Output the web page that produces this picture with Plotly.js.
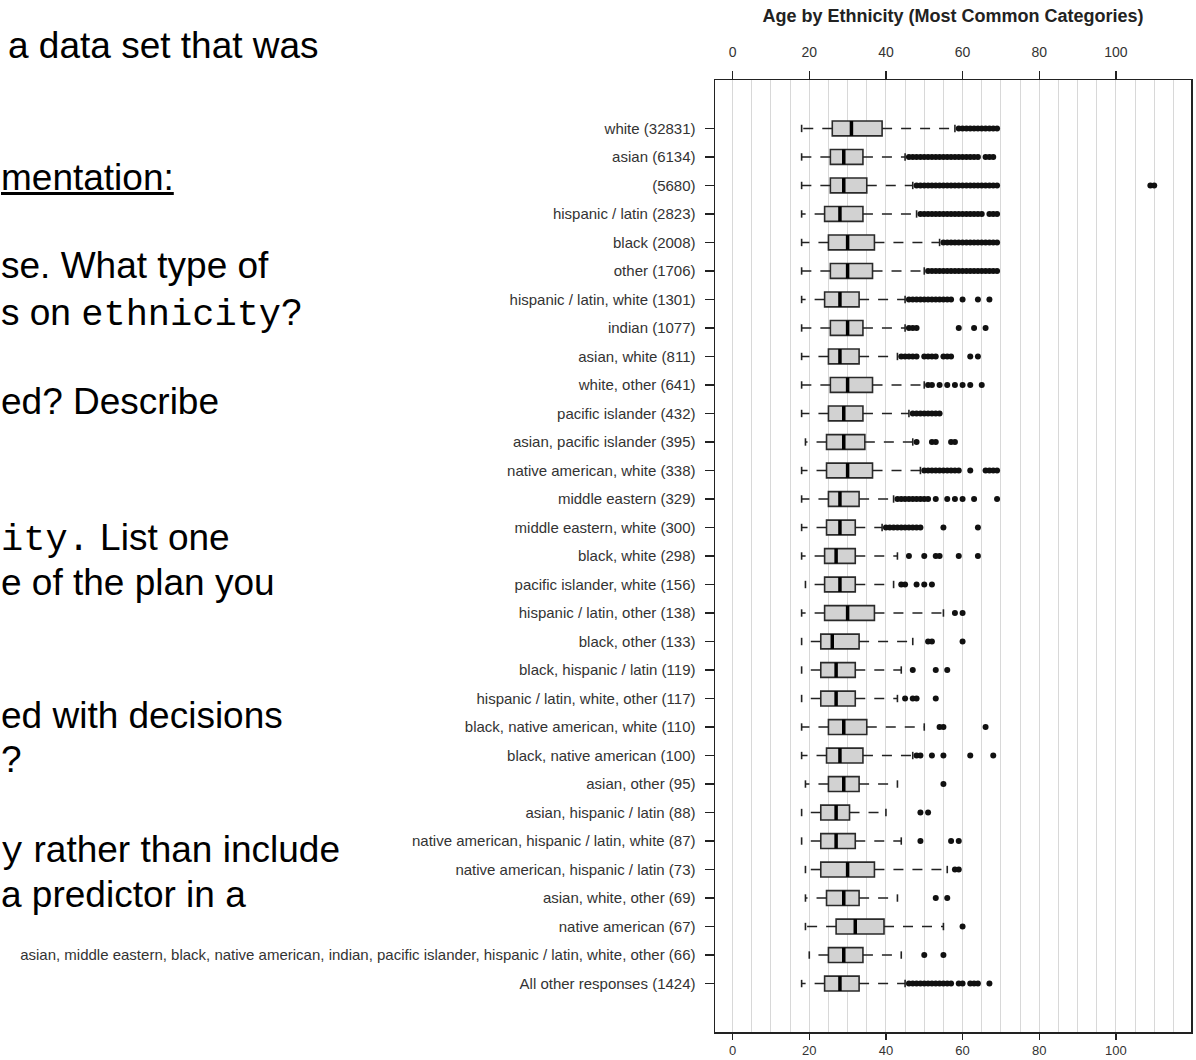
<!DOCTYPE html>
<html>
<head>
<meta charset="utf-8">
<script src="https://cdn.plot.ly/plotly-3.0.1.min.js"></script>
<style>
html,body{margin:0;padding:0;background:#fff;overflow:hidden;}
#wrap{position:relative;width:1196px;height:1060px;}
#chart{position:absolute;left:0;top:0;width:1196px;height:1060px;}
.doc{position:absolute;white-space:nowrap;font-family:"Liberation Sans",Arial,sans-serif;font-size:37px;line-height:37px;color:#000;z-index:2;}
.mono{font-family:"Liberation Mono","Courier New",monospace;}
</style>
</head>
<body>
<div id="wrap">
<div id="chart"></div>
<div class="doc" style="left:8px;top:27px;">a data set that was</div>
<div class="doc" style="left:1px;top:159px;text-decoration:underline;">mentation:</div>
<div class="doc" style="left:1px;top:247px;">se. What type of</div>
<div class="doc" style="left:1px;top:294px;">s on <span class="mono">ethnicity</span>?</div>
<div class="doc" style="left:1px;top:383px;">ed? Describe</div>
<div class="doc" style="left:1px;top:519px;"><span class="mono">ity.</span> List one</div>
<div class="doc" style="left:1px;top:564px;">e of the plan you</div>
<div class="doc" style="left:1px;top:697px;">ed with decisions</div>
<div class="doc" style="left:1px;top:741px;">?</div>
<div class="doc" style="left:1px;top:831px;"><span class="mono">y</span> rather than include</div>
<div class="doc" style="left:1px;top:876px;">a predictor in a</div>
</div>
<script>
// ---- data ----
const labels = [
  "white (32831)",
  "asian (6134)",
  "(5680)",
  "hispanic / latin (2823)",
  "black (2008)",
  "other (1706)",
  "hispanic / latin, white (1301)",
  "indian (1077)",
  "asian, white (811)",
  "white, other (641)",
  "pacific islander (432)",
  "asian, pacific islander (395)",
  "native american, white (338)",
  "middle eastern (329)",
  "middle eastern, white (300)",
  "black, white (298)",
  "pacific islander, white (156)",
  "hispanic / latin, other (138)",
  "black, other (133)",
  "black, hispanic / latin (119)",
  "hispanic / latin, white, other (117)",
  "black, native american, white (110)",
  "black, native american (100)",
  "asian, other (95)",
  "asian, hispanic / latin (88)",
  "native american, hispanic / latin, white (87)",
  "native american, hispanic / latin (73)",
  "asian, white, other (69)",
  "native american (67)",
  "asian, middle eastern, black, native american, indian, pacific islander, hispanic / latin, white, other (66)",
  "All other responses (1424)"
];
const lowWhisker  = [18,18,18,18,18,18,18,18,18,18,18,19,18,18,18,18,19,18,18,18,18,18,18,19,18,18,19,19,19,20,18];
const q1          = [26,25.5,25.5,24,25,25.5,24,25.5,25,25.5,25,24.5,24.5,25,24.5,24,24,24,23,23,23,25,24.5,25,23,23,23,24.5,27,25,24];
const median      = [31,29,29,28,30,30,28,30,28,30,29,29,30,28,28,27,28,30,26,27,27,29,28,29,27,27,30,29,32,29,28];
const q3          = [39,34,35,34,37,36.5,33,34,33,36.5,34,34.5,36.5,33,32,32,32,37,33,32,32,35,34,33,30.5,32,37,33,39.5,34,33];
const highWhisker = [58,45,47,48,54,50,45,45,43,50,46,47,49,42,39,43,42,55,47,44,43,50,47,43,40,44,56,43,55,44,45];
const outliers = [
  [59,60,61,62,63,64,65,66,67,68,69],
  [46,47,48,49,50,51,52,53,54,55,56,57,58,59,60,61,62,63,64,66,67,68],
  [48,49,50,51,52,53,54,55,56,57,58,59,60,61,62,63,64,65,66,67,68,69,109,110],
  [49,50,51,52,53,54,55,56,57,58,59,60,61,62,63,64,65,67,68,69],
  [55,56,57,58,59,60,61,62,63,64,65,66,67,68,69],
  [51,52,53,54,55,56,57,58,59,60,61,62,63,64,65,66,67,68,69],
  [46,47,48,49,50,51,52,53,54,55,56,57,60,64,67],
  [46,47,48,59,63,66],
  [44,45,46,47,48,50,51,52,53,55,56,57,62,64],
  [51,52,54,56,58,60,62,65],
  [47,48,49,50,51,52,53,54],
  [48,52,53,57,58],
  [50,51,52,53,54,55,56,57,58,59,62,66,67,68,69],
  [43,44,45,46,47,48,49,50,51,53,56,58,60,63,69],
  [40,41,42,43,44,45,46,47,48,49,55,64],
  [46,50,53,54,59,64],
  [44,45,48,50,52],
  [58,60],
  [51,52,60],
  [47,53,56],
  [45,47,48,53],
  [54,55,66],
  [48,49,52,55,62,68],
  [55],
  [49,51],
  [49,57,59],
  [58,59],
  [53,56],
  [60],
  [50,55],
  [46,47,48,49,50,51,52,53,54,55,56,57,59,60,62,63,64,67]
];
const titleText = "Age by Ethnicity (Most Common Categories)";

// ---- build traces ----
const pos = labels.map((_, i) => i);
const boxHalf = 0.26, capHalf = 0.13;

const wx = [], wy = [], cx = [], cy = [], mx = [], my = [], ox = [], oy = [];
pos.forEach(i => {
  wx.push(q3[i], highWhisker[i], null, q1[i], lowWhisker[i], null);
  wy.push(i, i, null, i, i, null);
  cx.push(highWhisker[i], highWhisker[i], null, lowWhisker[i], lowWhisker[i], null);
  cy.push(i - capHalf, i + capHalf, null, i - capHalf, i + capHalf, null);
  mx.push(median[i], median[i], null);
  my.push(i - boxHalf, i + boxHalf, null);
  outliers[i].forEach(v => { ox.push(v); oy.push(i); });
});

const font = "Liberation Sans, Arial, Helvetica, sans-serif";
const ink = "#222";

const traces = [
  {type: "scatter", mode: "lines", x: wx, y: wy, line: {color: ink, width: 1.6, dash: "10px,9px"}, hoverinfo: "skip", showlegend: false},
  {type: "scatter", mode: "lines", x: cx, y: cy, line: {color: ink, width: 1.6}, hoverinfo: "skip", showlegend: false},
  {type: "box", orientation: "h", y: pos, q1: q1, median: median, q3: q3,
   lowerfence: q1, upperfence: q3, width: 2 * boxHalf, whiskerwidth: 0,
   fillcolor: "#d2d2d2", line: {color: "#2a2a2a", width: 1.6}, boxpoints: false,
   hoverinfo: "skip", showlegend: false},
  {type: "scatter", mode: "markers", x: ox, y: oy, marker: {color: "#111", size: 6, symbol: "circle"}, hoverinfo: "skip", showlegend: false},
  {type: "scatter", mode: "lines", x: mx, y: my, xaxis: "x2", line: {color: "#000", width: 3.5}, hoverinfo: "skip", showlegend: false}
];

const xr = [-4.6, 119.6];
const layout = {
  width: 1196, height: 1060, autosize: false,
  margin: {l: 715, r: 5, t: 80, b: 28, pad: 0},
  paper_bgcolor: "rgba(0,0,0,0)", plot_bgcolor: "#fff",
  font: {family: font, color: "#333"},
  title: {text: "<b>" + titleText + "</b>", font: {family: font, size: 18, color: ink},
          x: 0.5, xref: "paper", xanchor: "center", y: 1 - 16/1060, yref: "container", yanchor: "middle"},
  xaxis: {range: xr, tick0: 0, dtick: 20, ticks: "outside", ticklen: 6, tickwidth: 1.3, tickcolor: ink,
          showline: true, mirror: true, linecolor: ink, linewidth: 1.5, zeroline: false,
          showgrid: true, gridcolor: "#d8d8d8", gridwidth: 1,
          minor: {tick0: 0, dtick: 5, showgrid: true, gridcolor: "#d8d8d8", gridwidth: 1, ticks: ""},
          tickfont: {size: 13, color: "#333"}, ticklabelstandoff: 0, fixedrange: true},
  xaxis2: {range: xr, overlaying: "x", side: "top", anchor: "y", tick0: 0, dtick: 20, ticks: "outside",
           ticklen: 8, tickwidth: 1.3, tickcolor: ink, showline: false, showgrid: false, zeroline: false,
           tickfont: {size: 14, color: "#333"}, ticklabelstandoff: 8, fixedrange: true},
  yaxis: {range: [31.7, -1.7], tickmode: "array", tickvals: pos, ticktext: labels, ticks: "outside",
          ticklen: 9, tickwidth: 1.3, tickcolor: ink, showline: true, mirror: true, linecolor: ink, linewidth: 1.5,
          showgrid: false, zeroline: false, tickfont: {size: 15, color: "#333"}, ticklabelstandoff: 6, fixedrange: true},
  showlegend: false
};

Plotly.newPlot("chart", traces, layout, {displayModeBar: false, staticPlot: true});
</script>
</body>
</html>
